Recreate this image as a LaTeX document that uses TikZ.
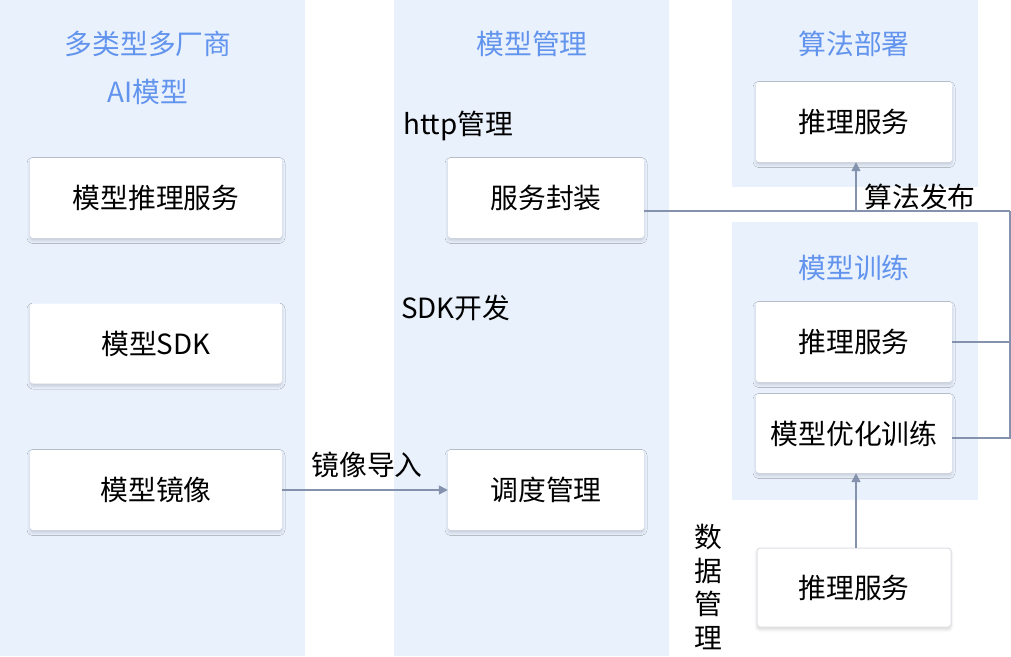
\documentclass[tikz,border=0pt]{standalone}
\usepackage{fontspec}
\setmainfont{Noto Sans CJK SC}
\usetikzlibrary{arrows.meta,shadows.blur}
\definecolor{panelbg}{RGB}{233,241,253}
\definecolor{titleblue}{RGB}{98,148,238}
\definecolor{linecol}{RGB}{133,146,173}
\definecolor{boxborder}{RGB}{222,224,228}
\tikzset{
  panel/.style={fill=panelbg, draw=none},
  card/.style={fill=white, draw=none, rounded corners=3pt, minimum height=80pt,
    font=\fontsize{27.8}{30}\selectfont, text=black, inner sep=0pt,
    blur shadow={shadow xshift=0pt, shadow yshift=-2.5pt, shadow blur radius=3pt,
      shadow opacity=16}},
  ptitle/.style={font=\fontsize{27.8}{30}\selectfont, text=titleblue, inner sep=0pt},
  plabel/.style={font=\fontsize{27.8}{30}\selectfont, text=black, inner sep=0pt},
  conn/.style={draw=linecol, line width=1.5pt},
  arr/.style={conn, -{Triangle[length=9pt,width=9pt]}},
}
\begin{document}
\begin{tikzpicture}[x=1pt,y=-1pt]
\useasboundingbox (0,0) rectangle (1011,656);
% panels
\fill[panel] (0,0) rectangle (305,656);
\fill[panel] (394,0) rectangle (669,656);
\fill[panel] (732,0) rectangle (978,187);
\fill[panel] (732,222) rectangle (978,500);
% titles
\node[ptitle] (ttl1) at (148,44) {多类型多厂商};
\node[ptitle] (ttl1b) at (148,92) {AI模型};
\node[ptitle] (ttl2) at (532,44) {模型管理};
\node[ptitle] (ttl3) at (854,44) {算法部署};
\node[ptitle] (ttl4) at (854,268) {模型训练};
% cards
\node[card, minimum width=252pt] (m1) at (156,198) {模型推理服务};
\node[card, minimum width=252pt] (m2) at (156,343.5) {模型SDK};
\node[card, minimum width=252pt] (m3) at (156,490) {模型镜像};
\node[card, minimum width=196pt] (fw) at (546,198) {服务封装};
\node[card, minimum width=196pt] (dd) at (546,490) {调度管理};
\node[card, minimum width=196pt] (t1) at (854,122) {推理服务};
\node[card, minimum width=196pt] (t2) at (854,342) {推理服务};
\node[card, minimum width=196pt, minimum height=79pt] (t3) at (854,433.5) {模型优化训练};
\node[card, minimum width=194pt, minimum height=79pt, draw=boxborder, line width=1pt] (t4) at (854,587.5) {推理服务};
% labels
\node[plabel, anchor=west] (lhttp) at (403,126) {http管理};
\node[plabel, anchor=west] (lsdk) at (401,308) {SDK开发};
\node[plabel] (ljx) at (367,465) {镜像导入};
\node[plabel] (lsf) at (920,197) {算法发布};
\node[plabel, align=center, font=\fontsize{27.8}{33.5}\selectfont] (lsj) at (708,587) {数\\据\\管\\理};
% connectors
\coordinate (cr1) at (1010,211);
\coordinate (cr2) at (1010,438);
\coordinate (ca) at (856,211);
\draw[conn] ([yshift=-13pt]fw.east) -- (cr1);
\draw[conn] (t2.east) -- (t2.east -| cr1);
\draw[conn] ([yshift=-4.5pt]t3.east) -- (cr2) -- (cr1);
\draw[arr] (ca) -- (ca |- t1.south);
\draw[arr] ([xshift=2pt]t4.north) -- ([xshift=2pt]t3.south);
\draw[arr] (m3) -- (dd);
\end{tikzpicture}
\end{document}
